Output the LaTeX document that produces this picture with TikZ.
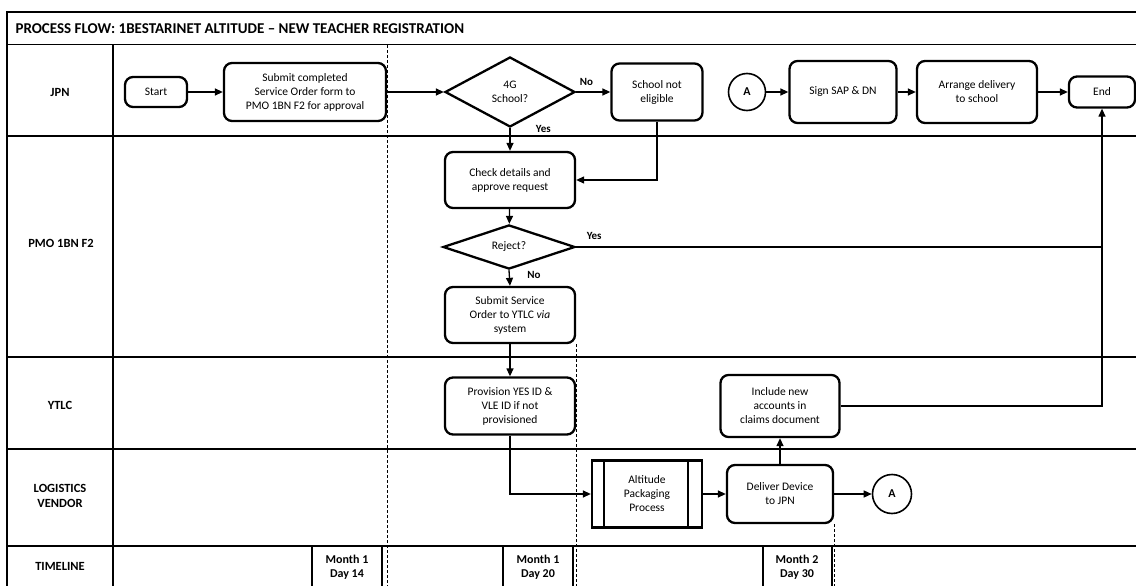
\documentclass[tikz,border=0pt]{standalone}
\usepackage{fontspec}
\setmainfont{Carlito}
\usetikzlibrary{arrows.meta,shapes.geometric}
\begin{document}
\begin{tikzpicture}[x=1pt,y=-1pt,
  box/.style={draw, line width=2.3pt, rounded corners=8pt, align=center, font=\fontsize{11.5}{14}\selectfont, inner sep=1pt},
  dec/.style={draw, diamond, line width=2.3pt, align=center, inner sep=0pt, font=\fontsize{11.5}{14}\selectfont},
  conn/.style={line width=1.3pt, -{Triangle[length=8pt,width=7pt]}},
  plainline/.style={line width=1.3pt},
  lane/.style={line width=1.8pt},
  guide/.style={line width=1pt, densely dashed},
  lbl/.style={font=\bfseries\fontsize{12.5}{15}\selectfont, align=center},
  yn/.style={font=\bfseries\fontsize{11}{13}\selectfont},
  onpage/.style={draw, circle, line width=1.6pt, minimum size=37pt, inner sep=0pt, font=\bfseries\fontsize{12}{14}\selectfont},
  tlbox/.style={draw, line width=2.3pt},
  tl/.style={font=\bfseries\fontsize{12}{14}\selectfont, align=center}
]
\useasboundingbox (0,0) rectangle (1136,586);

% frame and lanes
\draw[lane] (7,586) -- (7,12) -- (1136,12);
\draw[line width=1pt] (7,45) -- (1136,45);
\draw[lane] (7,136) -- (1136,136);
\draw[lane] (7,357) -- (1136,357);
\draw[lane] (7,449) -- (1136,449);
\draw[lane] (7,546) -- (1136,546);
\draw[lane] (113,45) -- (113,586);

\node[anchor=west, font=\bfseries\fontsize{15}{17}\selectfont] (title) at (12,29) {PROCESS FLOW: 1BESTARINET ALTITUDE -- NEW TEACHER REGISTRATION};

\node[lbl] (lJPN) at (60,92) {JPN};
\node[lbl] (lPMO) at (61,243) {PMO 1BN F2};
\node[lbl] (lYTLC) at (60,405) {YTLC};
\node[lbl] (lLOG) at (60,496) {LOGISTICS\\VENDOR};
\node[lbl] (lTL) at (60,566) {TIMELINE};

% JPN lane
\node[box, minimum width=62pt, minimum height=30pt] (start) at (156,92) {Start};
\node[box, minimum width=162pt, minimum height=58pt] (submit) at (305,92) {Submit completed\\Service Order form to\\PMO 1BN F2 for approval};
\node[dec, minimum width=130pt, minimum height=70pt] (g4) at (510,92) {4G\\School?};
\node[box, minimum width=91pt, minimum height=57pt] (notel) at (657,92) {School not\\eligible};
\node[onpage, minimum size=37pt] (a1) at (747,92) {A};
\node[box, minimum width=107pt, minimum height=62pt] (sign) at (843,92) {Sign SAP \& DN};
\node[box, minimum width=120pt, minimum height=62pt] (arrange) at (977,92) {Arrange delivery\\to school};
\node[box, minimum width=66pt, minimum height=31pt] (endn) at (1102,92) {End};

% PMO lane
\node[box, minimum width=130pt, minimum height=56pt] (check) at (510,180) {Check details and\\approve request};
\node[dec, minimum width=132pt, minimum height=40pt] (rej) at (509,247) {Reject?};
\node[box, minimum width=130pt, minimum height=56pt] (sso) at (510,315) {Submit Service\\Order to YTLC \textit{via}\\system};

% YTLC lane
\node[box, minimum width=130pt, minimum height=57pt] (prov) at (510,406) {Provision YES ID \&\\VLE ID if not\\provisioned};
\node[box, minimum width=119pt, minimum height=62pt] (incl) at (780,406) {Include new\\accounts in\\claims document};

% Logistics lane
\node[draw, line width=2.3pt, minimum width=110pt, minimum height=67pt, align=center, font=\fontsize{11.5}{14}\selectfont, inner sep=1pt] (alt) at (647,494) {Altitude\\Packaging\\Process};
\draw[line width=1.8pt] ([xshift=13pt]alt.north west) -- ([xshift=13pt]alt.south west);
\draw[line width=1.8pt] ([xshift=-15pt]alt.north east) -- ([xshift=-15pt]alt.south east);
\node[box, minimum width=106pt, minimum height=58pt] (deliver) at (780,494) {Deliver Device\\to JPN};
\node[onpage, minimum size=39pt] (a2) at (892,494) {A};

% guides
\draw[guide] (submit.east |- 0,45) -- (submit.east |- 0,586);
\draw[guide] (sso.south east) -- (sso.south east |- 0,586);
\draw[guide] (deliver.south east) -- (deliver.south east |- 0,586);

% timeline boxes
\draw[tlbox] (312,590) -- (312,546) -- (382,546) -- (382,590);
\node[tl] (t14) at (347,567) {Month 1\\Day 14};
\draw[tlbox] (503,590) -- (503,546) -- (573,546) -- (573,590);
\node[tl] (t20) at (538,567) {Month 1\\Day 20};
\draw[tlbox] (763,590) -- (763,546) -- (832,546) -- (832,590);
\node[tl] (t30) at (797,567) {Month 2\\Day 30};

% connectors
\draw[conn] (start) -- (submit);
\draw[conn] (submit) -- (g4);
\draw[conn] (g4.east) -- (notel.west) node[yn, pos=0.3, above=2pt] {No};
\draw[conn] (g4.south) -- (check.north) node[yn, pos=0.02, right=22pt] {Yes};
\draw[conn] (notel.south) |- (check.east);
\draw[conn] (check) -- (rej);
\draw[conn] (rej.south) -- (sso.north) node[yn, pos=0.3, right=14pt] {No};
\draw[plainline] (rej.east) -- (rej.east -| endn.south) node[yn, pos=0.005, anchor=south west, yshift=3pt, xshift=4pt] {Yes};
\draw[conn] (sso) -- (prov);
\draw[conn] (prov.south) |- (alt.west);
\draw[conn] (alt) -- (deliver);
\draw[conn] (deliver) -- (a2);
\draw[conn] (deliver) -- (incl);
\draw[conn] (incl.east) -| (endn.south);
\draw[conn] (a1) -- (sign);
\draw[conn] (sign) -- (arrange);
\draw[conn] (arrange) -- (endn);
\end{tikzpicture}
\end{document}
